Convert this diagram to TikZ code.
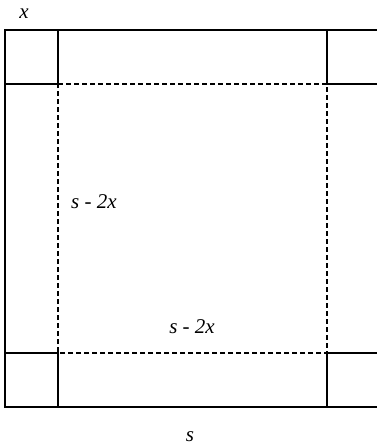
\documentclass[tikz,border=0pt]{standalone}
\usepackage{fontspec}
\setmainfont{Liberation Serif}
\usetikzlibrary{positioning}
\tikzset{
  cutline/.style={black,line width=1.3pt},
  foldline/.style={black,line width=1.2pt,dash pattern=on 5pt off 3pt},
  dimlabel/.style={font=\fontsize{21}{25}\selectfont\itshape,inner sep=1pt}
}

\begin{document}
\begin{tikzpicture}[x=1pt,y=-1pt]
\useasboundingbox[fill=white] (0,0) rectangle (377,448);
% sheet: outer corners (right edge runs past the page)
\coordinate (NW) at (5,30);
\coordinate (SE) at (380,407);
% fold lines at x from each edge
\foreach \n/\xx in {l/58, r/327} {
  \coordinate (\n-top) at (\xx,30);
  \coordinate (\n-bot) at (\xx,407);
}
\foreach \n/\yy in {t/84, b/353} {
  \coordinate (\n-left) at (5,\yy);
  \coordinate (\n-right) at (380,\yy);
}
\coordinate (C1) at (58,84);
\coordinate (C2) at (327,84);
\coordinate (C3) at (327,353);
\coordinate (C4) at (58,353);
% outer sheet
\draw[cutline] (NW) rectangle (SE);
% corner squares (cut out)
\draw[cutline] (l-top) -- (C1) -- (t-left);
\draw[cutline] (r-top) -- (C2) -- (t-right);
\draw[cutline] (r-bot) -- (C3) -- (b-right);
\draw[cutline] (l-bot) -- (C4) -- (b-left);
% fold lines of the base
\draw[foldline] (C1) -- (C2) -- (C3) -- (C4) -- cycle;
% labels
\node[dimlabel] (xlab) at (24,14) {x};
\node[dimlabel,anchor=west] (sidelab) at (70,202) {s - 2x};
\node[dimlabel] (baselab) at (192,327) {s - 2x};
\node[dimlabel] (slab) at (190,437) {s};
\end{tikzpicture}
\end{document}
